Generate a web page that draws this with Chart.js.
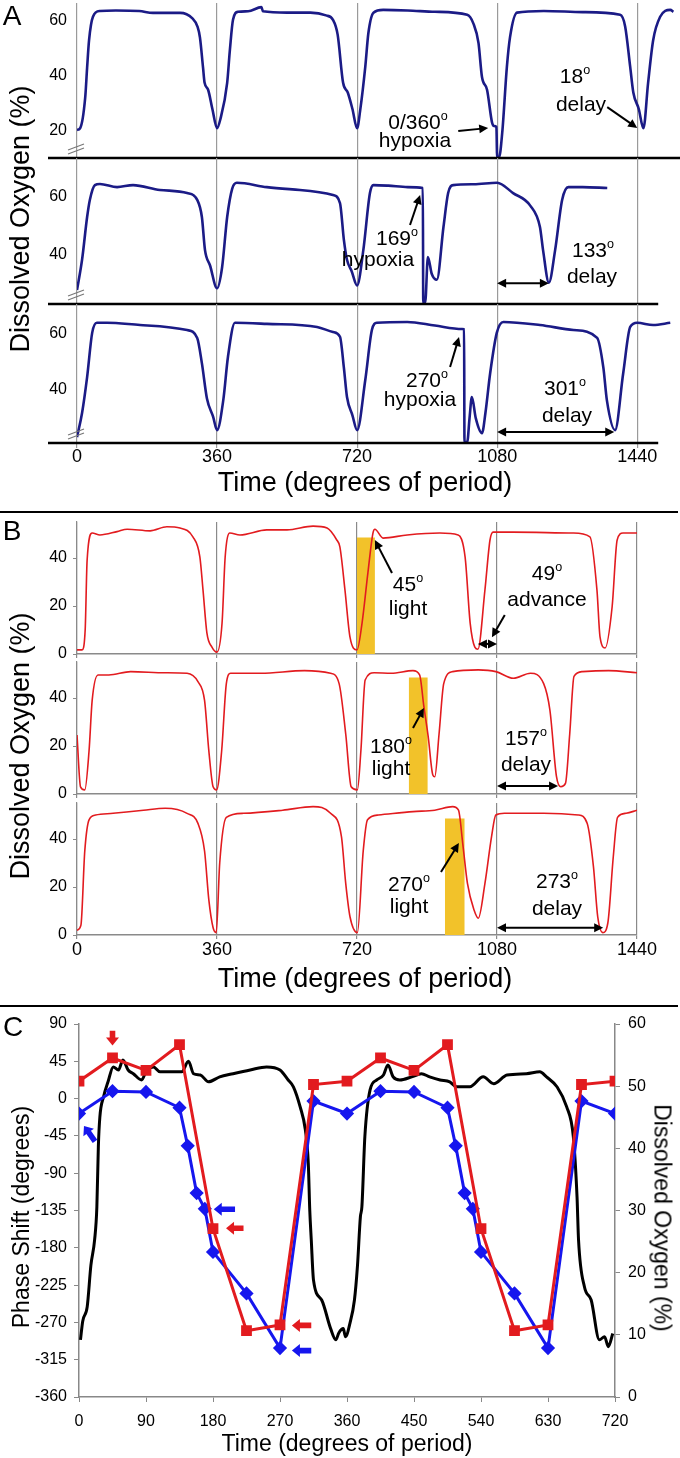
<!DOCTYPE html>
<html>
<head>
<meta charset="utf-8">
<title>Dissolved oxygen phase response</title>
<script src="https://cdn.jsdelivr.net/npm/chart.js@4.4.1/dist/chart.umd.min.js"></script>
<style>
  body { margin: 0; background: #fff; }
  #page { position: relative; width: 680px; height: 1458px; overflow: hidden; background: #fff;
          font-family: "Liberation Sans", Arial, sans-serif; color: #000; }
  #page canvas { position: absolute; left: 0; }
  .t { position: absolute; white-space: nowrap; line-height: 1; transform: translate(-50%, -50%); z-index: 5; }
  .up { transform: translate(-50%, -50%) rotate(-90deg); }
  .down { transform: translate(-50%, -50%) rotate(90deg); }
  .o { font-size: 0.6em; position: relative; top: -0.75em; }
  .sep { position: absolute; left: 0; width: 678px; height: 2.5px; background: #000; }
</style>
</head>
<body>
<div id="page"></div>
<script>
// ---- panel A: hypoxia pulses (time in degrees of period, DO in %)
const aTicks = [0, 360, 720, 1080, 1440];

const a1Time = [0,8,21,26,31,41,59,100,160,195,265,296,310,316,324,328,337,348,360,
  368,386,393,401,414,440,474,478,540,600,640,658,670,684,696,708,720,
  728,741,749,762,787,850,920,1003,1019,1032,1041,1054,1067,1072,1078,1080,1085,1093,1105,1113,1131,1200,1300,1396,1409,1422,1430,1444,1456,1468,1481,1499,1525,1533];
const a1DO = [20.4,21,32,43,53,61.5,63.6,63.8,63.6,62.9,62.9,61,57.8,54,43,37.5,35,28,21,
  24,37.5,49.5,60.4,63.3,63.5,65,63.5,63,63,62,60.4,55,37.5,34,28,21,
  27.6,43.3,55.6,63,64,63.8,63.3,62.2,59,52,39.6,35,23,21.8,21.5,10.5,10.5,19.3,43.3,54,63,63.6,63.2,62.2,58,43.3,34,28,21,37.5,53,61.5,64,63.3];

const a2Time = [0,13,26,33,46,59,103,144,213,283,309,321,329,342,360,
  373,386,399,411,488,573,658,676,686,694,706,720,
  736,753,762,800,850,889,890,895,902,912,925,942,954,967,1020,1080,1121,1165,1190,1198,1213,1229,1247,1263,1300,1363];
const a2DO = [27.4,38,53,59,64.2,64.6,63.5,64.2,62.5,61.4,59,53,41.4,36,28,
  35.4,53,63,65,63.5,62.5,60.7,57.9,45,38,34,29,
  41.4,61.4,64.2,64,63.5,63.2,23,23,39,33,31,49.5,61.4,64.2,64.5,65,61.4,57,49.5,41.4,30,41.4,59,63.5,63.5,63.2];

const a3Time = [0,13,26,39,51,77,162,283,309,321,334,350,360,
  376,388,406,488,617,658,676,686,694,708,720,
  741,758,771,849,920,990,995,996,1003,1009,1015,1025,1041,1050,1062,1079,1096,1190,1276,1337,1353,1362,1383,1404,1422,1440,1481,1525];
const a3DO = [23.2,31.8,44.6,60.4,64,64,63.2,61.4,58.6,49.6,37,30.4,25.7,
  36.4,51.8,64,63.6,62.5,60.7,59,48,37.5,31,25.7,
  43.6,61.4,64,64.3,63,61.8,61.7,21.4,21.4,30,37.5,30,24.6,32,46,60.4,64.3,63.2,61.4,58.6,48,36.4,25.7,46,62.5,64,63.2,64];

const aShift = [-18, -133, -301];

// ---- panel B: light pulses
const b1Time = [0,13,21,26,39,59,103,129,188,231,265,298,316,324,334,347,360,
  373,381,393,419,488,540,607,643,668,676,689,702,720,
  733,748,761,766,787,849,933,980,998,1011,1023,1031,1049,1062,1070,1121,1276,1319,1337,1345,1358,1376,1389,1404,1440];
const b1DO = [1.7,1.7,10,39,50.4,49.6,51,52,51.3,53,52.5,48.8,40.4,26.7,8.8,2.9,0.8,
  12.9,40.4,50.4,49.6,51.7,51.7,53.3,52.5,47.5,44.6,26.7,7,1.7,
  12.9,33.8,50.4,52,48.3,49.6,50.4,49.6,40.4,12.9,2.9,2,26.7,47.5,50.8,50.8,50.4,48.8,26.7,7,2.5,19.6,47.5,50.4,50.4];

const b2Time = [0,9,20,31,39,54,82,138,227,283,311,328,339,350,359,
  372,384,395,473,585,652,674,691,705,721,
  730,741,764,808,864,881,892,903,915,920,931,943,966,1032,1077,1122,1166,1200,1216,1233,1244,1256,1267,1278,1300,1367,1440];
const b2DO = [24.6,3,1.7,18,39,49.6,49.6,51,50.5,50.3,46.8,39,18,3,1.7,
  18,46,50.3,50.3,51.4,50.3,46,25,3,1.7,
  18,47.5,50.5,50.3,51.4,49.6,36.4,24,7.9,7.2,25,46,51,51.7,51,48.2,50.3,46,35,7.2,3,4.4,25,49,51,51.4,50.5];

const b3Time = [0,10,20,31,48,93,171,227,283,311,328,339,350,358,
  367,384,428,529,607,652,680,691,702,721,
  736,747,775,864,920,966,981,992,1004,1021,1032,1049,1066,1077,1099,1200,1289,1312,1328,1339,1352,1365,1379,1390,1412,1440];
const b3DO = [2,4,35,48,50,50.7,52,52.8,50.7,46.5,35,14.6,3,1,
  30,49,50.7,52,53.5,50.7,41,21.5,7.6,1,
  35,48,50,51.4,52,53.5,52,38,21.5,10.4,7,21.5,41,50,50.7,50.7,50,46.5,28.5,7.6,1,5,32.6,49,50.7,52];

const lightStart = [720, 853, 946];
const lightEnd = [766, 902, 997];
const lightTop = 48.5;
const bShift = [49, -157, -273];

// ---- panel C: phase response curves
const cHypPhase = [0,45,90,135,146,158,169,180,225,270,315,360,405,450,495,506,518,529,540,585,630,675,720];
const cHypShift = [-18,9,8,-11,-57,-114,-133,-185,-235,-301,-3,-18,9,8,-11,-57,-114,-133,-185,-235,-301,-3,-18];
const cLightPhase = [0,45,90,135,180,225,270,315,360,405,450,495,540,585,630,675,720];
const cLightShift = [21,49,34,65,-157,-280,-273,17,21,49,34,65,-157,-280,-273,17,21];
const cDOTime = [2,5,11,16,21,24,26,28,33,39,46,53,59,66,73,84,91,100,109,127,
  138,147,154,163,174,189,207,230,252,270,281,288,297,304,308,310,312,315,326,338,
  345,349,355,358,364,370,374,378,380,384,391,400,409,415,422,431,447,460,471,485,
  498,507,525,543,557,575,601,619,628,642,655,664,669,671,679,688,699,706,711,717];
const cDO = [9.2,12.2,14.5,21.2,25.3,30.6,40.3,45,48.3,50.7,53.1,52.6,54.2,52.6,52,51,52.6,53.1,52.3,52.3,
  52.3,54,52,51.8,50.7,51.5,52,52.6,53.1,52.6,51,49.9,46.7,43,37.6,30,25.3,18.8,15.6,11,
  9.2,10.3,11,9.7,11.9,15.6,21,29,30.6,41.9,49.4,51,51.8,53.4,51.5,51,51.5,52,51.5,51,
  50.7,49.9,49.9,51.5,50.4,51.8,52,52.3,51.5,49.9,46.7,41.9,32.2,25.3,17.7,15.6,9.2,9.7,8.1,10.2];

const NAVY = '#1b1b86', RED = '#e21b1f', BLUE = '#1616ee', YELLOW = '#f2c22a';
const page = document.getElementById('page');
Chart.defaults.font.family = '"Liberation Sans", Arial, sans-serif';
Chart.defaults.color = '#000';

const pts = (xs, ys) => xs.map((x, i) => ({x: x, y: ys[i]}));
const str = v => String(v);

function head(ctx, x, y, a, h, w) {
  ctx.beginPath();
  ctx.moveTo(x, y);
  ctx.lineTo(x - h * Math.cos(a) + w * Math.sin(a), y - h * Math.sin(a) - w * Math.cos(a));
  ctx.lineTo(x - h * Math.cos(a) - w * Math.sin(a), y - h * Math.sin(a) + w * Math.cos(a));
  ctx.closePath();
  ctx.fill();
}

function lineArrow(ctx, x1, y1, x2, y2, both) {
  const a = Math.atan2(y2 - y1, x2 - x1), h = 9, c = Math.cos(a), s = Math.sin(a);
  ctx.strokeStyle = '#000'; ctx.fillStyle = '#000'; ctx.lineWidth = 2;
  ctx.beginPath();
  ctx.moveTo(both ? x1 + c * h * 0.7 : x1, both ? y1 + s * h * 0.7 : y1);
  ctx.lineTo(x2 - c * h * 0.7, y2 - s * h * 0.7);
  ctx.stroke();
  head(ctx, x2, y2, a, h, 4.5);
  if (both) head(ctx, x1, y1, a + Math.PI, h, 4.5);
}

function blockArrow(ctx, x1, y1, x2, y2, color) {
  const a = Math.atan2(y2 - y1, x2 - x1), L = Math.hypot(x2 - x1, y2 - y1);
  const c = Math.cos(a), s = Math.sin(a), hl = 8, hw = 6.5, sw = 2.8;
  const P = (d, n) => [x1 + c * d - s * n, y1 + s * d + c * n];
  const poly = [P(0, -sw), P(L - hl, -sw), P(L - hl, -hw), P(L, 0), P(L - hl, hw), P(L - hl, sw), P(0, sw)];
  ctx.fillStyle = color;
  ctx.beginPath();
  poly.forEach((p, i) => i ? ctx.lineTo(p[0], p[1]) : ctx.moveTo(p[0], p[1]));
  ctx.closePath();
  ctx.fill();
}

function deco(cfg) {
  return {
    id: 'deco',
    afterDatasetsDraw(chart) {
      const ctx = chart.ctx, ca = chart.chartArea;
      const X = v => chart.scales.x.getPixelForValue(v), Y = v => chart.scales.y.getPixelForValue(v);
      ctx.save();
      if (cfg.axisEnd) {
        ctx.strokeStyle = '#000'; ctx.lineWidth = 2.5;
        ctx.beginPath(); ctx.moveTo(ca.left - 29, ca.bottom); ctx.lineTo(X(cfg.axisEnd), ca.bottom); ctx.stroke();
        ctx.strokeStyle = '#777'; ctx.lineWidth = 1.2;
        [0, 4].forEach(k => {
          ctx.beginPath(); ctx.moveTo(ca.left - 9, ca.bottom - 4 - k); ctx.lineTo(ca.left + 7, ca.bottom - 10 - k); ctx.stroke();
        });
      }
      (cfg.pointers || []).forEach(p => lineArrow(ctx, X(p[0]), Y(p[1]), X(p[2]), Y(p[3]), false));
      (cfg.spans || []).forEach(s => lineArrow(ctx, X(s[0]), Y(s[2]), X(s[1]), Y(s[2]), true));
      (cfg.blocks || []).forEach(b => blockArrow(ctx, X(b[0]), Y(b[1]), X(b[2]), Y(b[3]), b[4]));
      ctx.restore();
    }
  };
}

function build(spec) {
  const cv = document.createElement('canvas');
  cv.width = 680;
  cv.height = spec.padTop + (spec.bottom - spec.top) + spec.axisH;
  cv.style.top = (spec.top - spec.padTop) + 'px';
  page.appendChild(cv);
  return new Chart(cv, {
    type: 'line',
    data: { datasets: spec.datasets },
    options: {
      responsive: false, animation: false, devicePixelRatio: 1, events: [],
      layout: { padding: { top: spec.padTop, left: 0, right: spec.padRight || 0, bottom: 0 } },
      plugins: { legend: { display: false }, tooltip: { enabled: false } },
      scales: spec.scales
    },
    plugins: [deco(spec.deco || {})]
  });
}

function fixX(h) { return s => { s.height = h; s.paddingLeft = 0; s.paddingRight = 0; }; }
function fixY(w) { return s => { s.width = w; s.paddingTop = 0; s.paddingBottom = 0; }; }
const setTicks = vals => s => { s.ticks = vals.map(v => ({value: v})); };

// smooth traces: monotone cubic keeps the rounded shoulders of the recorder trace
function curve(xs, ys, color, width) {
  return { data: pts(xs, ys), borderColor: color, borderWidth: width, pointRadius: 0,
           cubicInterpolationMode: 'monotone', fill: false, order: 0 };
}

function aScales(min, max, yTicks, showX) {
  return {
    x: { type: 'linear', min: 0, max: 1550, afterBuildTicks: setTicks(aTicks), afterFit: fixX(showX ? 30 : 4),
         ticks: { display: showX, autoSkip: false, maxRotation: 0, padding: -2, font: { size: 18 }, callback: str },
         grid: { color: '#9a9a9a', lineWidth: 1.2, drawTicks: showX, tickLength: 5 },
         border: { display: false } },
    y: { type: 'linear', min: min, max: max, afterBuildTicks: setTicks(yTicks), afterFit: fixY(77),
         ticks: { padding: 10, font: { size: 16 }, callback: str },
         grid: { display: false, drawTicks: false },
         border: { display: false } }
  };
}

function bScales(showX) {
  return {
    x: { type: 'linear', min: 0, max: 1440, afterBuildTicks: setTicks(aTicks), afterFit: fixX(showX ? 30 : 8),
         ticks: { display: showX, autoSkip: false, maxRotation: 0, padding: 0, font: { size: 18 }, callback: str },
         grid: { color: '#8a8a8a', lineWidth: 1.2, drawTicks: true, tickLength: 4 },
         border: { display: true, color: '#8a8a8a', width: 1.5 } },
    y: { type: 'linear', min: 0, max: 55, afterBuildTicks: setTicks([0, 20, 40]), afterFit: fixY(77),
         ticks: { padding: 6, font: { size: 16 }, callback: str },
         grid: { display: true, drawOnChartArea: false, drawTicks: true, tickLength: 4, color: '#8a8a8a' },
         border: { display: true, color: '#8a8a8a', width: 1.2 } }
  };
}

function span(shift, y) {
  const end = 1080 - shift;
  return [Math.min(1080, end), Math.max(1080, end), y];
}

// A1 .. A3
build({ top: 3, bottom: 158, padTop: 3, axisH: 4,
  datasets: [curve(a1Time, a1DO, NAVY, 2.6)], scales: aScales(10.2, 66.5, [20, 40, 60], false),
  deco: { axisEnd: 1550, pointers: [[980, 20, 1057, 21.1], [1363, 28.7, 1440, 21.1]] } });
build({ top: 158, bottom: 304, padTop: 10, axisH: 4,
  datasets: [curve(a2Time, a2DO, NAVY, 2.6)], scales: aScales(22.5, 73.7, [40, 60], false),
  deco: { axisEnd: 1494, pointers: [[856, 50.2, 882, 60.7]], spans: [span(aShift[1], 29.8)] } });
build({ top: 304, bottom: 443, padTop: 10, axisH: 30,
  datasets: [curve(a3Time, a3DO, NAVY, 2.6)], scales: aScales(21.1, 70.7, [40, 60], true),
  deco: { axisEnd: 1494, pointers: [[959, 48.2, 982, 58.9]], spans: [span(aShift[2], 25)] } });

// B1 .. B3
function lightBar(i) {
  return { data: [{x: lightStart[i], y: lightTop}, {x: lightEnd[i], y: lightTop}], borderWidth: 0, pointRadius: 0,
           backgroundColor: YELLOW, fill: 'origin', order: 1 };
}
build({ top: 522, bottom: 654, padTop: 10, axisH: 8, padRight: 43,
  datasets: [curve(b1Time, b1DO, RED, 1.6), lightBar(0)], scales: bScales(false),
  deco: { pointers: [[810, 33.75, 766, 47.5], [1100, 16.25, 1067, 7]], spans: [span(bShift[0], 4.2)] } });
build({ top: 662, bottom: 794, padTop: 10, axisH: 8, padRight: 43,
  datasets: [curve(b2Time, b2DO, RED, 1.6), lightBar(1)], scales: bScales(false),
  deco: { pointers: [[864, 27.5, 892, 35.8]], spans: [span(bShift[1], 3.3)] } });
build({ top: 803, bottom: 935, padTop: 10, axisH: 30, padRight: 43,
  datasets: [curve(b3Time, b3DO, RED, 1.6), lightBar(2)], scales: bScales(true),
  deco: { pointers: [[936, 26.25, 982, 38.3]], spans: [span(bShift[2], 3)] } });

// C
const cAxis = { drawOnChartArea: false, drawTicks: true, tickLength: 5, color: '#888' };
const cBorder = { display: true, color: '#888', width: 1.5 };
build({ top: 1024, bottom: 1397, padTop: 10, axisH: 40,
  datasets: [
    { data: pts(cLightPhase, cLightShift), yAxisID: 'y', borderColor: RED, backgroundColor: RED, borderWidth: 3,
      pointStyle: 'rect', pointRadius: 5.5, tension: 0, order: 0 },
    { data: pts(cHypPhase, cHypShift), yAxisID: 'y', borderColor: BLUE, backgroundColor: BLUE, borderWidth: 3,
      pointStyle: 'rectRot', pointRadius: 5, tension: 0, order: 1 },
    { data: pts(cDOTime, cDO), yAxisID: 'y1', borderColor: '#000', borderWidth: 3, pointRadius: 0,
      cubicInterpolationMode: 'monotone', order: 2 }
  ],
  scales: {
    x: { type: 'linear', min: 0, max: 720, afterFit: fixX(40),
         ticks: { stepSize: 90, padding: 10, font: { size: 16 }, autoSkip: false, maxRotation: 0, callback: str },
         grid: cAxis, border: cBorder },
    y: { type: 'linear', position: 'left', min: -360, max: 90, afterFit: fixY(79),
         ticks: { stepSize: 45, padding: 7, font: { size: 16 }, callback: str },
         grid: cAxis, border: cBorder },
    y1: { type: 'linear', position: 'right', min: 0, max: 60, afterFit: fixY(65),
          ticks: { stepSize: 10, padding: 8, font: { size: 16 }, callback: str },
          grid: cAxis, border: cBorder }
  },
  deco: { blocks: [
    [45, 82, 45, 64, RED], [221, -156.4, 197.5, -156.4, RED], [312, -273.6, 286, -273.6, RED],
    [209.6, -133.5, 181, -133.5, BLUE], [312, -304, 286, -304, BLUE], [21.5, -51.5, 6.7, -33, BLUE]
  ] } });

// ---- text and separators
function text(x, y, html, size, cls) {
  const d = document.createElement('div');
  d.className = 't' + (cls ? ' ' + cls : '');
  d.style.left = x + 'px'; d.style.top = y + 'px'; d.style.fontSize = size + 'px';
  d.innerHTML = html;
  page.appendChild(d);
}
function sep(y) {
  const d = document.createElement('div');
  d.className = 'sep'; d.style.top = y + 'px';
  page.appendChild(d);
}
sep(510.5);
sep(1004.5);

const deg = '<span class="o">o</span>';
text(12, 16, 'A', 28); text(12, 531, 'B', 28); text(13, 1027, 'C', 28);
text(365, 482, 'Time (degrees of period)', 27);
text(20, 219, 'Dissolved Oxygen (%)', 27, 'up');
text(365, 978, 'Time (degrees of period)', 27);
text(20, 746, 'Dissolved Oxygen (%)', 27, 'up');
text(347, 1443, 'Time (degrees of period)', 23);
text(21, 1217, 'Phase Shift (degrees)', 23, 'up');
text(662, 1218, 'Dissolved Oxygen (%)', 23, 'down');

const notes = [
  [418, 121, '0/360' + deg], [415, 139, 'hypoxia'], [575, 75, '18' + deg], [581, 103, 'delay'],
  [397, 237, '169' + deg], [378, 258, 'hypoxia'], [593, 249, '133' + deg], [592, 275, 'delay'],
  [427, 379, '270' + deg], [420, 398, 'hypoxia'], [565, 387, '301' + deg], [567, 414, 'delay'],
  [408, 583, '45' + deg], [408, 607, 'light'], [547, 572, '49' + deg], [547, 598, 'advance'],
  [391, 745, '180' + deg], [391, 767, 'light'], [526, 737, '157' + deg], [526, 763, 'delay'],
  [409, 883, '270' + deg], [409, 905, 'light'], [557, 880, '273' + deg], [557, 907, 'delay']
];
notes.forEach(n => text(n[0], n[1], n[2], 21));
</script>
</body>
</html>
